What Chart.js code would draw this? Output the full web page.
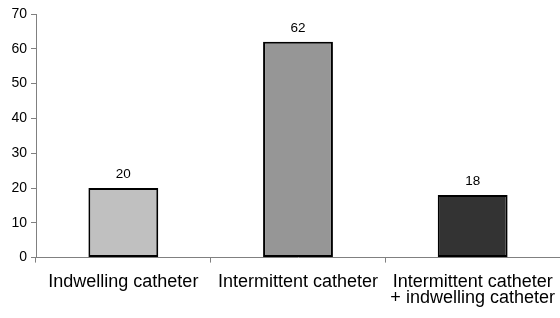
<!DOCTYPE html>
<html>
<head>
<meta charset="utf-8">
<script src="https://cdn.jsdelivr.net/npm/chart.js@4/dist/chart.umd.min.js"></script>
<style>
  html, body { margin: 0; padding: 0; background: #fff; }
  #wrap { width: 560px; height: 318px; }
</style>
</head>
<body>
<div id="wrap"><canvas id="myChart"></canvas></div>
<script>
var categories = ['Indwelling catheter', 'Intermittent catheter', ['Intermittent catheter', '+ indwelling catheter']];
var values = [20, 62, 18];
var barColors = ['#c0c0c0', '#969696', '#333333'];
var yTicks = [0, 10, 20, 30, 40, 50, 60, 70];

// draws the number above each bar
var valueLabels = {
    id: 'valueLabels',
    afterDatasetsDraw: function(chart) {
        var ctx = chart.ctx;
        var meta = chart.getDatasetMeta(0);
        ctx.save();
        ctx.font = '13.5px "Liberation Sans", Arial, sans-serif';
        ctx.fillStyle = '#000';
        ctx.textAlign = 'center';
        ctx.textBaseline = 'alphabetic';
        meta.data.forEach(function(bar, i) {
            ctx.fillText(values[i], bar.x, bar.y - 10);
        });
        ctx.restore();
    }
};

var ctx = document.getElementById('myChart').getContext('2d');
var chart = new Chart(ctx, {
    type: 'bar',
    data: {
        labels: categories,
        datasets: [{
            data: values,
            backgroundColor: barColors,
            borderColor: '#000',
            borderWidth: 2,
            borderSkipped: false,
            barPercentage: 0.4,
            categoryPercentage: 1.0
        }]
    },
    options: {
        responsive: true,
        maintainAspectRatio: false,
        animation: false,
        layout: { padding: { top: 14, right: 0, left: 0, bottom: 1 } },
        plugins: {
            legend: { display: false },
            tooltip: { enabled: false }
        },
        scales: {
            x: {
                afterFit: function(axis) {
                    axis.paddingLeft = 0;
                    axis.paddingRight = 0;
                },
                grid: {
                    offset: true,
                    drawOnChartArea: false,
                    drawTicks: true,
                    tickLength: 5,
                    color: '#808080'
                },
                border: { color: '#808080', width: 1 },
                ticks: {
                    color: '#000',
                    font: { family: '"Liberation Sans", Arial, sans-serif', size: 18, lineHeight: 0.9 },
                    maxRotation: 0,
                    autoSkip: false,
                    padding: 11
                }
            },
            y: {
                min: 0,
                max: 70,
                afterBuildTicks: function(axis) {
                    axis.ticks = yTicks.map(function(v) { return { value: v }; });
                },
                afterFit: function(axis) { axis.width = 36; },
                grid: {
                    drawOnChartArea: false,
                    drawTicks: true,
                    tickLength: 5,
                    color: '#808080'
                },
                border: { color: '#808080', width: 1 },
                ticks: {
                    color: '#000',
                    font: { family: '"Liberation Sans", Arial, sans-serif', size: 14 },
                    padding: 4
                }
            }
        }
    },
    plugins: [valueLabels]
});
</script>
</body>
</html>
